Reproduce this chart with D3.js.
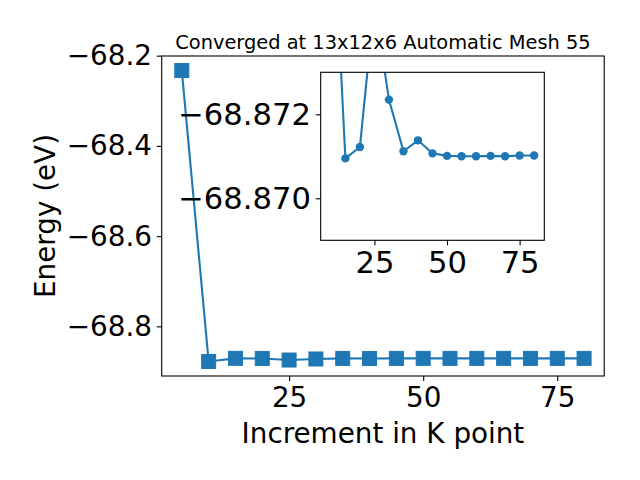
<!DOCTYPE html>
<html>
<head>
<meta charset="utf-8">
<script src="https://cdn.jsdelivr.net/npm/d3@7"></script>
<style>
  body { margin: 0; background: #fff; }
  svg { display: block; font-family: "DejaVu Sans", sans-serif; }
</style>
</head>
<body>
<svg id="chart" width="640" height="480"></svg>
<script>
// ---- data ----
const kIncrement = [5, 10, 15, 20, 25, 30, 35, 40, 45, 50, 55, 60, 65, 70, 75, 80];
const energy = [-68.233, -68.87786, -68.87095, -68.87122, -68.87468, -68.87235, -68.87112, -68.87138,
                -68.87107, -68.87101, -68.87100, -68.87100, -68.87101, -68.87100, -68.87102, -68.87102];
const mainXTicks = [25, 50, 75];
const mainYTicks = [-68.2, -68.4, -68.6, -68.8];
const insetXTicks = [25, 50, 75];
const insetYTicks = [-68.872, -68.870];
const insetYLimits = [-68.869, -68.873]; // bottom, top (inverted)
const titleText = "Converged at 13x12x6 Automatic Mesh 55";
const xLabel = "Increment in K point";
const yLabel = "Energy (eV)";

const color = "#1f77b4";
const svg = d3.select("#chart");
const fmtMinus = s => s.replace("-", "\u2212");

function padDomain(ext, frac) {
  const d = ext[1] - ext[0];
  return [ext[0] - d * frac, ext[1] + d * frac];
}

// ---- main axes ----
const main = { left: 161.7, right: 604.2, top: 56, bottom: 376 };
const pts = kIncrement.map((k, i) => ({ x: k, y: energy[i] }));
const x = d3.scaleLinear().domain(padDomain(d3.extent(kIncrement), 0.05)).range([main.left, main.right]);
const y = d3.scaleLinear().domain(padDomain(d3.extent(energy), 0.05)).range([main.bottom, main.top]);

const tickLen = 4.9, tickPad = 4.9, fs = 27.8, fsInset = 30.6;

function styleAxis(g, size) {
  g.select(".domain").remove();
  g.selectAll(".tick line").attr("stroke", "#000").attr("stroke-width", 1.1);
  g.selectAll(".tick text").attr("fill", "#000").attr("font-size", size)
    .attr("font-family", "DejaVu Sans, sans-serif");
}

svg.append("g").attr("transform", `translate(0,${main.bottom})`)
  .call(d3.axisBottom(x).tickValues(mainXTicks).tickSize(tickLen).tickPadding(tickPad).tickFormat(d3.format("d")))
  .call(styleAxis, fs)
  .call(g => g.selectAll(".tick text").attr("dy", "0.76em"));

svg.append("g").attr("transform", `translate(${main.left},0)`)
  .call(d3.axisLeft(y).tickValues(mainYTicks).tickSize(tickLen).tickPadding(tickPad).tickFormat(d => fmtMinus(d3.format(".1f")(d))))
  .call(styleAxis, fs);

svg.append("defs").append("clipPath").attr("id", "mainClip")
  .append("rect").attr("x", main.left).attr("y", main.top)
  .attr("width", main.right - main.left).attr("height", main.bottom - main.top);

const line = d3.line().x(d => x(d.x)).y(d => y(d.y));
const mg = svg.append("g").attr("clip-path", "url(#mainClip)");
mg.append("path").datum(pts).attr("d", line).attr("fill", "none")
  .attr("stroke", color).attr("stroke-width", 2.1);
const sq = 14;
svg.append("g").selectAll("rect").data(pts).join("rect")
  .attr("x", d => x(d.x) - sq / 2).attr("y", d => y(d.y) - sq / 2)
  .attr("width", sq).attr("height", sq).attr("fill", color)
  .attr("stroke", color).attr("stroke-width", 1);

svg.append("rect").attr("x", main.left).attr("y", main.top)
  .attr("width", main.right - main.left).attr("height", main.bottom - main.top)
  .attr("fill", "none").attr("stroke", "#000").attr("stroke-width", 1.1);

// title and labels
svg.append("text").attr("x", (main.left + main.right) / 2).attr("y", 49)
  .attr("text-anchor", "middle").attr("font-size", 19.4).text(titleText);
svg.append("text").attr("x", (main.left + main.right) / 2).attr("y", 442.5)
  .attr("text-anchor", "middle").attr("font-size", fs).text(xLabel);
svg.append("text").attr("transform", `translate(55,${(main.top + main.bottom) / 2}) rotate(-90)`)
  .attr("text-anchor", "middle").attr("font-size", fs).text(yLabel);

// ---- inset axes ----
const ins = { left: 320.7, right: 544.3, top: 72.3, bottom: 240.3 };
const insPts = pts.filter(d => d.x >= 10);
const xi = d3.scaleLinear().domain(padDomain(d3.extent(insPts, d => d.x), 0.05)).range([ins.left, ins.right]);
const yi = d3.scaleLinear().domain(insetYLimits).range([ins.bottom, ins.top]);

svg.append("rect").attr("x", ins.left).attr("y", ins.top)
  .attr("width", ins.right - ins.left).attr("height", ins.bottom - ins.top).attr("fill", "#fff");

svg.append("defs").append("clipPath").attr("id", "insClip")
  .append("rect").attr("x", ins.left).attr("y", ins.top)
  .attr("width", ins.right - ins.left).attr("height", ins.bottom - ins.top);

const ig = svg.append("g").attr("clip-path", "url(#insClip)");
ig.append("path").datum(insPts).attr("d", d3.line().x(d => xi(d.x)).y(d => yi(d.y)))
  .attr("fill", "none").attr("stroke", color).attr("stroke-width", 2.1);
ig.selectAll("circle").data(insPts).join("circle")
  .attr("cx", d => xi(d.x)).attr("cy", d => yi(d.y)).attr("r", 4.2).attr("fill", color);

svg.append("g").attr("transform", `translate(0,${ins.bottom})`)
  .call(d3.axisBottom(xi).tickValues(insetXTicks).tickSize(tickLen).tickPadding(tickPad).tickFormat(d3.format("d")))
  .call(styleAxis, fsInset)
  .call(g => g.selectAll(".tick text").attr("dy", "0.76em"));

svg.append("g").attr("transform", `translate(${ins.left},0)`)
  .call(d3.axisLeft(yi).tickValues(insetYTicks).tickSize(tickLen).tickPadding(tickPad).tickFormat(d => fmtMinus(d3.format(".3f")(d))))
  .call(styleAxis, fsInset);

svg.append("rect").attr("x", ins.left).attr("y", ins.top)
  .attr("width", ins.right - ins.left).attr("height", ins.bottom - ins.top)
  .attr("fill", "none").attr("stroke", "#000").attr("stroke-width", 1.1);
</script>
</body>
</html>
